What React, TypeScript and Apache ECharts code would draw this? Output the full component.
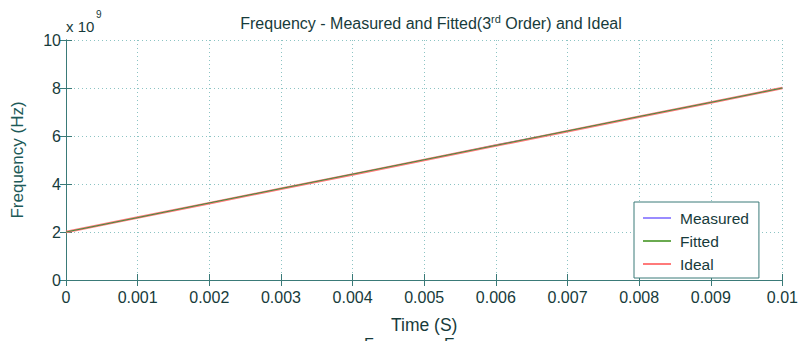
import React, { useEffect, useRef } from "react";
import * as echarts from "echarts";

const timeS = [0, 0.001, 0.002, 0.003, 0.004, 0.005, 0.006, 0.007, 0.008, 0.009, 0.01];
// frequency in units of 1e9 Hz
const measured = [2.0, 2.6, 3.2, 3.8, 4.4, 5.0, 5.63, 6.2, 6.8, 7.4, 8.0];
const fitted = [2.0, 2.6, 3.21, 3.81, 4.41, 5.01, 5.61, 6.21, 6.81, 7.4, 8.0];
const ideal = [2.0, 2.6, 3.2, 3.8, 4.4, 5.0, 5.6, 6.2, 6.8, 7.4, 8.0];
const xTickLabels = ["0", "0.001", "0.002", "0.003", "0.004", "0.005", "0.006", "0.007", "0.008", "0.009", "0.01"];

const FONT = "'Liberation Sans', Arial, sans-serif";
const AXIS = "#3a7a78";
const TEXT = "#173b3b";
const GRIDC = "#8cc4c4";

export default function App() {
  const ref = useRef<HTMLDivElement>(null);
  useEffect(() => {
    if (!ref.current) return;
    const chart = echarts.init(ref.current, null, { renderer: "svg" });
    const pair = (arr: number[]) => arr.map((v, i) => [timeS[i], v]);
    const tickAxis = {
      axisLine: { show: true, lineStyle: { color: AXIS, width: 1 } },
      axisTick: { show: true, inside: true, length: 6, lineStyle: { color: AXIS, width: 1 } },
    };
    chart.setOption({
      animation: false,
      backgroundColor: "#ffffff",
      title: {
        text: "Frequency - Measured and Fitted(3{sup|rd} Order) and Ideal",
        left: 426,
        textAlign: "center",
        top: 8,
        textStyle: {
          fontFamily: FONT,
          fontSize: 16,
          fontWeight: "normal",
          color: TEXT,
          rich: {
            sup: { fontSize: 11, verticalAlign: "top", padding: [0, 0, 9, 0], fontFamily: FONT, color: TEXT },
          },
        },
      },
      grid: { left: 66, right: 15, top: 40, bottom: 61, containLabel: false },
      legend: {
        orient: "vertical",
        left: 634,
        top: 202,
        width: 124,
        padding: [8, 10, 6, 9],
        itemGap: 7,
        itemWidth: 28,
        itemHeight: 2,
        icon: "rect",
        backgroundColor: "#ffffff",
        borderColor: AXIS,
        borderWidth: 1,
        borderRadius: 0,
        textStyle: { fontFamily: FONT, fontSize: 15.5, color: TEXT, padding: [0, 0, 0, 4] },
        data: ["Measured", "Fitted", "Ideal"],
      },
      xAxis: [
        {
          type: "value",
          min: 0,
          max: 0.01,
          interval: 0.001,
          name: "Time (S)",
          nameLocation: "middle",
          nameGap: 36,
          nameTextStyle: { fontFamily: FONT, fontSize: 17.5, color: TEXT },
          ...tickAxis,
          axisLabel: {
            fontFamily: FONT,
            fontSize: 16,
            color: TEXT,
            margin: 9,
            formatter: (v: number) => xTickLabels[Math.round(v * 1000)] ?? "",
          },
          splitLine: { show: true, lineStyle: { color: GRIDC, type: [1, 3], width: 1 } },
        },
        {
          type: "value",
          position: "top",
          min: 0,
          max: 0.01,
          interval: 0.001,
          ...tickAxis,
          axisLabel: { show: false },
          splitLine: { show: false },
        },
      ],
      yAxis: [
        {
          type: "value",
          min: 0,
          max: 10,
          interval: 2,
          name: "Frequency (Hz)",
          nameLocation: "middle",
          nameGap: 40,
          nameTextStyle: { fontFamily: FONT, fontSize: 17, color: "#1d5a58" },
          ...tickAxis,
          axisLabel: { fontFamily: FONT, fontSize: 16, color: TEXT, margin: 5 },
          splitLine: { show: true, lineStyle: { color: GRIDC, type: [1, 3], width: 1 } },
        },
        {
          type: "value",
          position: "right",
          min: 0,
          max: 10,
          interval: 2,
          ...tickAxis,
          axisLabel: { show: false },
          splitLine: { show: false },
        },
      ],
      graphic: [
        {
          type: "text",
          left: 66,
          top: 19,
          style: { text: "x 10", fontFamily: FONT, fontSize: 15, fill: TEXT },
        },
        {
          type: "text",
          left: 96,
          top: 9,
          style: { text: "9", fontFamily: FONT, fontSize: 10, fill: TEXT },
        },
        {
          type: "text",
          left: 364,
          top: 336,
          style: { text: "Frequency Error", fontFamily: FONT, fontSize: 16, fill: TEXT },
        },
      ],
      series: [
        {
          name: "Ideal",
          type: "line",
          data: pair(ideal),
          showSymbol: false,
          symbol: "none",
          lineStyle: { color: "#ff7a7a", width: 2.5 },
          itemStyle: { color: "#ff7a7a" },
          z: 2,
        },
        {
          name: "Fitted",
          type: "line",
          data: pair(fitted),
          showSymbol: false,
          symbol: "none",
          lineStyle: { color: "#3f8f3f", width: 1 },
          itemStyle: { color: "#6aaa50" },
          z: 3,
        },
        {
          name: "Measured",
          type: "line",
          data: pair(measured),
          showSymbol: false,
          symbol: "none",
          lineStyle: { color: "#6f6fff", width: 1 },
          itemStyle: { color: "#9a8cff" },
          z: 1,
        },
      ],
    });
    return () => chart.dispose();
  }, []);
  return (
    <div
      ref={ref}
      style={{ position: "fixed", left: 0, top: 0, width: 801, height: 341, background: "#fff" }}
    />
  );
}
